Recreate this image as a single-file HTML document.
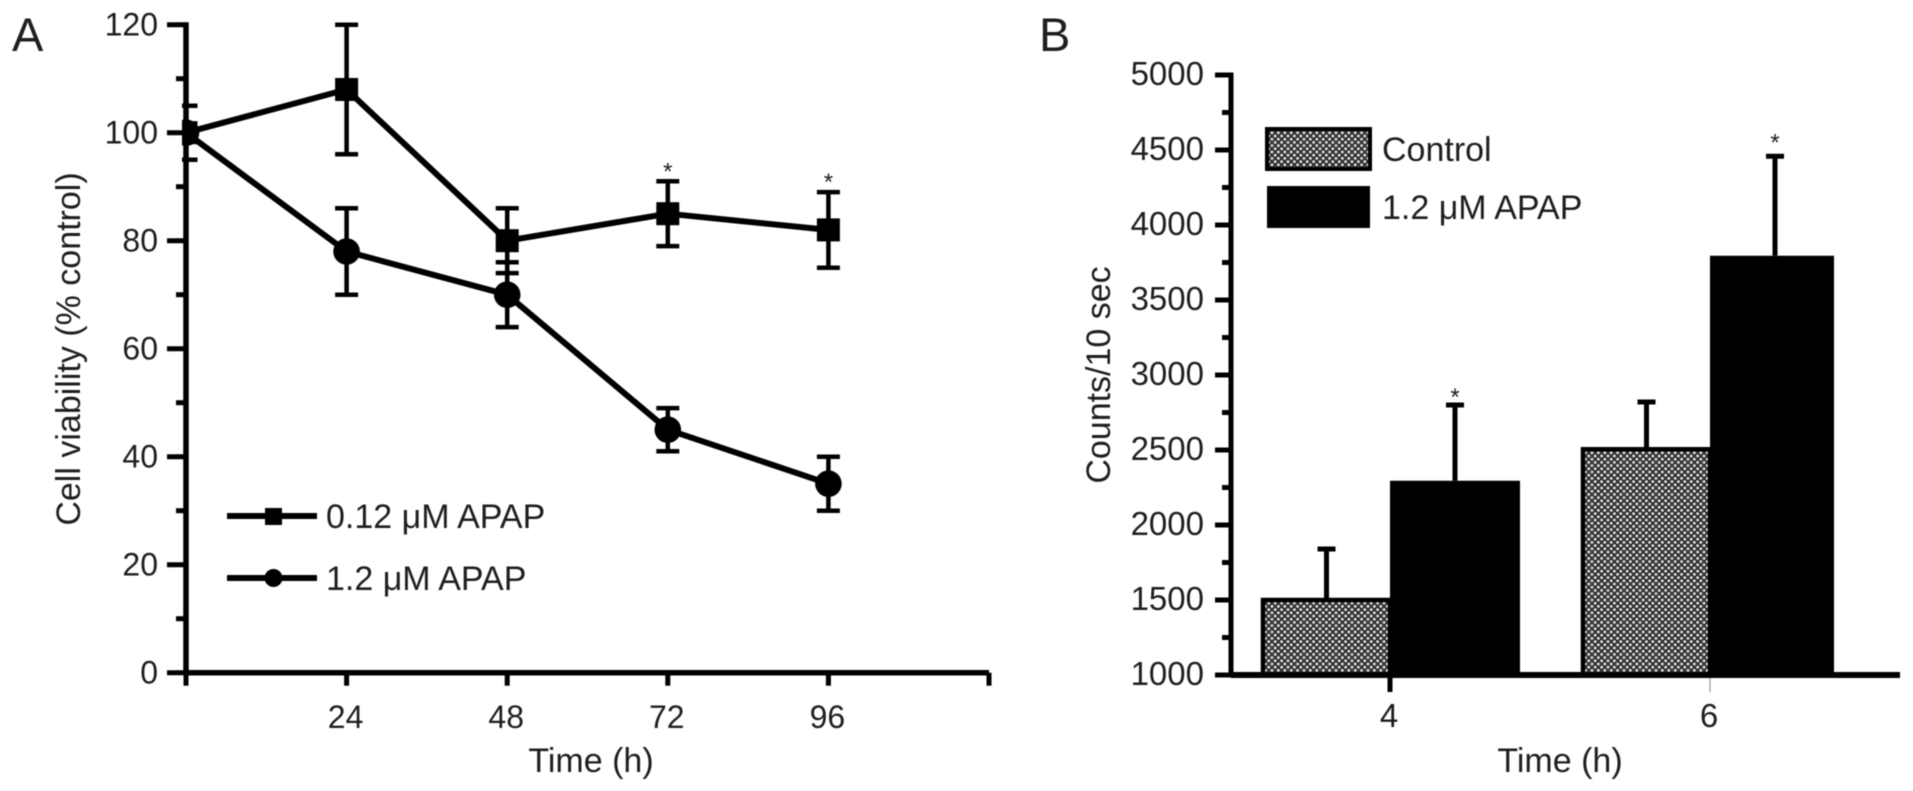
<!DOCTYPE html>
<html lang="en">
<head>
<meta charset="utf-8">
<title>Cell viability and counts charts</title>
<style>
html,body{margin:0;padding:0;background:#fff;width:1913px;height:791px;overflow:hidden}
svg{display:block;filter:blur(0.6px)}
text{font-family:"Liberation Sans",sans-serif;fill:#1e1e1e}
</style>
</head>
<body>
<svg id="figure" width="1913" height="791" viewBox="0 0 1913 791" xmlns="http://www.w3.org/2000/svg">
<defs>
<pattern id="dots" width="6.4" height="6.4" patternUnits="userSpaceOnUse">
<rect width="6.4" height="6.4" fill="#333"/>
<circle cx="1.6" cy="1.6" r="1.35" fill="#f4f4f4"/>
<circle cx="4.8" cy="4.8" r="1.35" fill="#f4f4f4"/>
</pattern>
<clipPath id="plotClipA"><rect x="182" y="0" width="820" height="700"/></clipPath>
</defs>
<text x="12" y="51" font-size="47">A</text>
<text x="1039" y="51" font-size="47">B</text>
<g id="chartA"></g>
<g id="chartB"></g>
</svg>
<script>
const hours = [0, 24, 48, 72, 96];
const hourTicks = [24, 48, 72, 96];
const hourAxisEnds = [0, 120];
const viabilityTicks = [0, 20, 40, 60, 80, 100, 120];
const viabilityMinorTicks = [10, 30, 50, 70, 90, 110];
const lowDose = [100, 108, 80, 85, 82];
const lowDoseUpper = [105, 120, 86, 91, 89];
const lowDoseLower = [95, 96, 74, 79, 75];
const highDose = [100, 78, 70, 45, 35];
const highDoseUpper = [101, 86, 76, 49, 40];
const highDoseLower = [99, 70, 64, 41, 30];
const significantHours = [72, 96];
const significantValues = [91, 89];

const timeCategories = ["4", "6"];
const countTicks = [1000, 1500, 2000, 2500, 3000, 3500, 4000, 4500, 5000];
const countMinorTicks = [1250, 1750, 2250, 2750, 3250, 3750, 4250, 4750];
const controlCounts = [1500, 2505];
const controlUpper = [1840, 2820];
const apapCounts = [2295, 3795];
const apapUpper = [2800, 4458];

const NS = "http://www.w3.org/2000/svg";
const chartA = document.getElementById("chartA");
const chartB = document.getElementById("chartB");

function line(parent, x1, y1, x2, y2, w, color) {
  const el = document.createElementNS(NS, "line");
  el.setAttribute("x1", x1);
  el.setAttribute("y1", y1);
  el.setAttribute("x2", x2);
  el.setAttribute("y2", y2);
  el.setAttribute("stroke", color || "#000");
  el.setAttribute("stroke-width", w);
  parent.appendChild(el);
  return el;
}
function label(parent, x, y, str, size, anchor) {
  const el = document.createElementNS(NS, "text");
  el.setAttribute("x", x);
  el.setAttribute("y", y);
  el.setAttribute("font-size", size);
  el.setAttribute("text-anchor", anchor || "middle");
  el.textContent = str;
  parent.appendChild(el);
  return el;
}
function rect(parent, x, y, w, h, fill, stroke, sw) {
  const el = document.createElementNS(NS, "rect");
  el.setAttribute("x", x);
  el.setAttribute("y", y);
  el.setAttribute("width", w);
  el.setAttribute("height", h);
  el.setAttribute("fill", fill);
  if (stroke) {
    el.setAttribute("stroke", stroke);
    el.setAttribute("stroke-width", sw);
  }
  parent.appendChild(el);
  return el;
}
function circle(parent, cx, cy, r) {
  const el = document.createElementNS(NS, "circle");
  el.setAttribute("cx", cx);
  el.setAttribute("cy", cy);
  el.setAttribute("r", r);
  el.setAttribute("fill", "#000");
  parent.appendChild(el);
  return el;
}
function polyline(parent, xs, ys, w) {
  const el = document.createElementNS(NS, "polyline");
  el.setAttribute("points", xs.map((x, i) => x + "," + ys[i]).join(" "));
  el.setAttribute("fill", "none");
  el.setAttribute("stroke", "#000");
  el.setAttribute("stroke-width", w);
  el.setAttribute("stroke-linejoin", "round");
  parent.appendChild(el);
  return el;
}

/* Panel A axes */
const xA = h => 186 + h * (160.6 / 24);
const yA = v => 672.7 - v * 5.4;
const FS_TICK_A = 32;
const FS_TITLE = 34;

hourAxisEnds.concat(hourTicks).forEach(h => {
  const t = line(chartA, xA(h), yA(0), xA(h), yA(0) + 13, 5);
  
  
});
viabilityTicks.forEach(v => {
  const t = line(chartA, xA(0) - 19, yA(v), xA(0), yA(v), 5);
  
  
  const l = label(chartA, 158, yA(v) + 11, String(v), FS_TICK_A, "end");
  
  
});
viabilityMinorTicks.forEach(v => {
  const t = line(chartA, xA(0) - 10, yA(v), xA(0), yA(v), 5);
  
  
});
hourTicks.forEach(h => {
  const l = label(chartA, xA(h) - 1, 728, String(h), FS_TICK_A);
  
  
});
const axisAY = line(chartA, xA(0), yA(120) - 2.5, xA(0), yA(0) + 2.5, 5.5);


const axisAX = line(chartA, xA(0), yA(0), xA(120), yA(0), 5.5);



const titleAX = label(chartA, 591, 772, "Time (h)", FS_TITLE);


const titleAY = label(chartA, 0, 0, "Cell viability (% control)", FS_TITLE);
titleAY.setAttribute("transform", "translate(80 349) rotate(-90)");



/* Panel A series (clipped at the y axis, as in the figure) */
const plotA = document.createElementNS(NS, "g");
plotA.setAttribute("clip-path", "url(#plotClipA)");


chartA.appendChild(plotA);

function errorBars(upper, lower) {
  hours.forEach((h, i) => {
    const g = document.createElementNS(NS, "g");
    
    
    plotA.appendChild(g);
    line(g, xA(h), yA(upper[i]), xA(h), yA(lower[i]), 4.5);
    line(g, xA(h) - 11.5, yA(upper[i]), xA(h) + 11.5, yA(upper[i]), 4.5);
    line(g, xA(h) - 11.5, yA(lower[i]), xA(h) + 11.5, yA(lower[i]), 4.5);
  });
}
errorBars(lowDoseUpper, lowDoseLower);
errorBars(highDoseUpper, highDoseLower);

const lineLow = polyline(plotA, hours.map(xA), lowDose.map(yA), 6);


const lineHigh = polyline(plotA, hours.map(xA), highDose.map(yA), 6);



hours.forEach((h, i) => {
  const m = rect(plotA, xA(h) - 11.5, yA(lowDose[i]) - 11.5, 23, 23, "#000");
  
  
  const c = circle(plotA, xA(h), yA(highDose[i]), 13.3);
  
  
});

significantHours.forEach((h, i) => {
  const s = label(chartA, xA(h), yA(significantValues[i]) - 2, "*", 24);
  
  
});

/* Panel A legend */
const legendA1 = document.createElementNS(NS, "g");


chartA.appendChild(legendA1);
line(legendA1, 227, 516, 317, 516, 6);
rect(legendA1, 265, 508, 17, 17, "#000");
label(legendA1, 326, 528, "0.12 μM APAP", FS_TITLE, "start");

const legendA2 = document.createElementNS(NS, "g");


chartA.appendChild(legendA2);
line(legendA2, 227, 578, 317, 578, 6);
circle(legendA2, 273.5, 578, 9);
label(legendA2, 326, 590, "1.2 μM APAP", FS_TITLE, "start");

/* Panel B axes */
const xB = i => 1390 + i * 320;
const yB = v => 675 - (v - 1000) * 0.15;
const FS_TICK_B = 33;
const controlWidth = 127;
const apapWidth = i => (i === 0 ? 130 : 124);

countTicks.forEach(v => {
  const t = line(chartB, 1215, yB(v), 1231, yB(v), 5);
  
  
  const l = label(chartB, 1204, yB(v) + 10, String(v), FS_TICK_B, "end");
  
  
});
countMinorTicks.forEach(v => {
  const t = line(chartB, 1222, yB(v), 1231, yB(v), 5);
  
  
});

/* Panel B bars */
timeCategories.forEach((cat, i) => {
  const ctrl = rect(chartB, xB(i) - controlWidth, yB(controlCounts[i]), controlWidth, yB(1000) - yB(controlCounts[i]), "url(#dots)", "#000", 4.5);
  
  
  const errC = document.createElementNS(NS, "g");
  
  
  chartB.appendChild(errC);
  line(errC, xB(i) - controlWidth / 2, yB(controlUpper[i]), xB(i) - controlWidth / 2, yB(controlCounts[i]), 5);
  line(errC, xB(i) - controlWidth / 2 - 9, yB(controlUpper[i]), xB(i) - controlWidth / 2 + 9, yB(controlUpper[i]), 5);

  const apap = rect(chartB, xB(i), yB(apapCounts[i]), apapWidth(i), yB(1000) - yB(apapCounts[i]), "#000");
  
  
  const errA = document.createElementNS(NS, "g");
  
  
  chartB.appendChild(errA);
  line(errA, xB(i) + 65, yB(apapUpper[i]), xB(i) + 65, yB(apapCounts[i]), 5);
  line(errA, xB(i) + 56, yB(apapUpper[i]), xB(i) + 74, yB(apapUpper[i]), 5);

  const star = label(chartB, xB(i) + 65, yB(apapUpper[i]) + (i === 0 ? 0 : -6), "*", 24);
  
  

  const t = line(chartB, xB(i), yB(1000), xB(i), yB(1000) + 17, i === 0 ? 5 : 1.2, i === 0 ? "#000" : "#999");
  
  
  const l = label(chartB, xB(i) - 1, 727, cat, FS_TICK_B);
  
  
});

const axisBY = line(chartB, 1231, yB(5000) - 2.5, 1231, yB(1000) + 2.5, 5);


const axisBX = line(chartB, 1231, yB(1000), 1900, yB(1000), 6);



const titleBX = label(chartB, 1560, 772, "Time (h)", FS_TITLE);


const titleBY = label(chartB, 0, 0, "Counts/10 sec", FS_TITLE);
titleBY.setAttribute("transform", "translate(1110 375) rotate(-90)");



/* Panel B legend */
const legendB1 = document.createElementNS(NS, "g");


chartB.appendChild(legendB1);
rect(legendB1, 1267, 129, 103, 40, "url(#dots)", "#000", 4);
label(legendB1, 1382, 161, "Control", FS_TITLE, "start");

const legendB2 = document.createElementNS(NS, "g");


chartB.appendChild(legendB2);
rect(legendB2, 1267, 186, 103, 42, "#000");
label(legendB2, 1382, 219, "1.2 μM APAP", FS_TITLE, "start");
</script>
</body>
</html>
